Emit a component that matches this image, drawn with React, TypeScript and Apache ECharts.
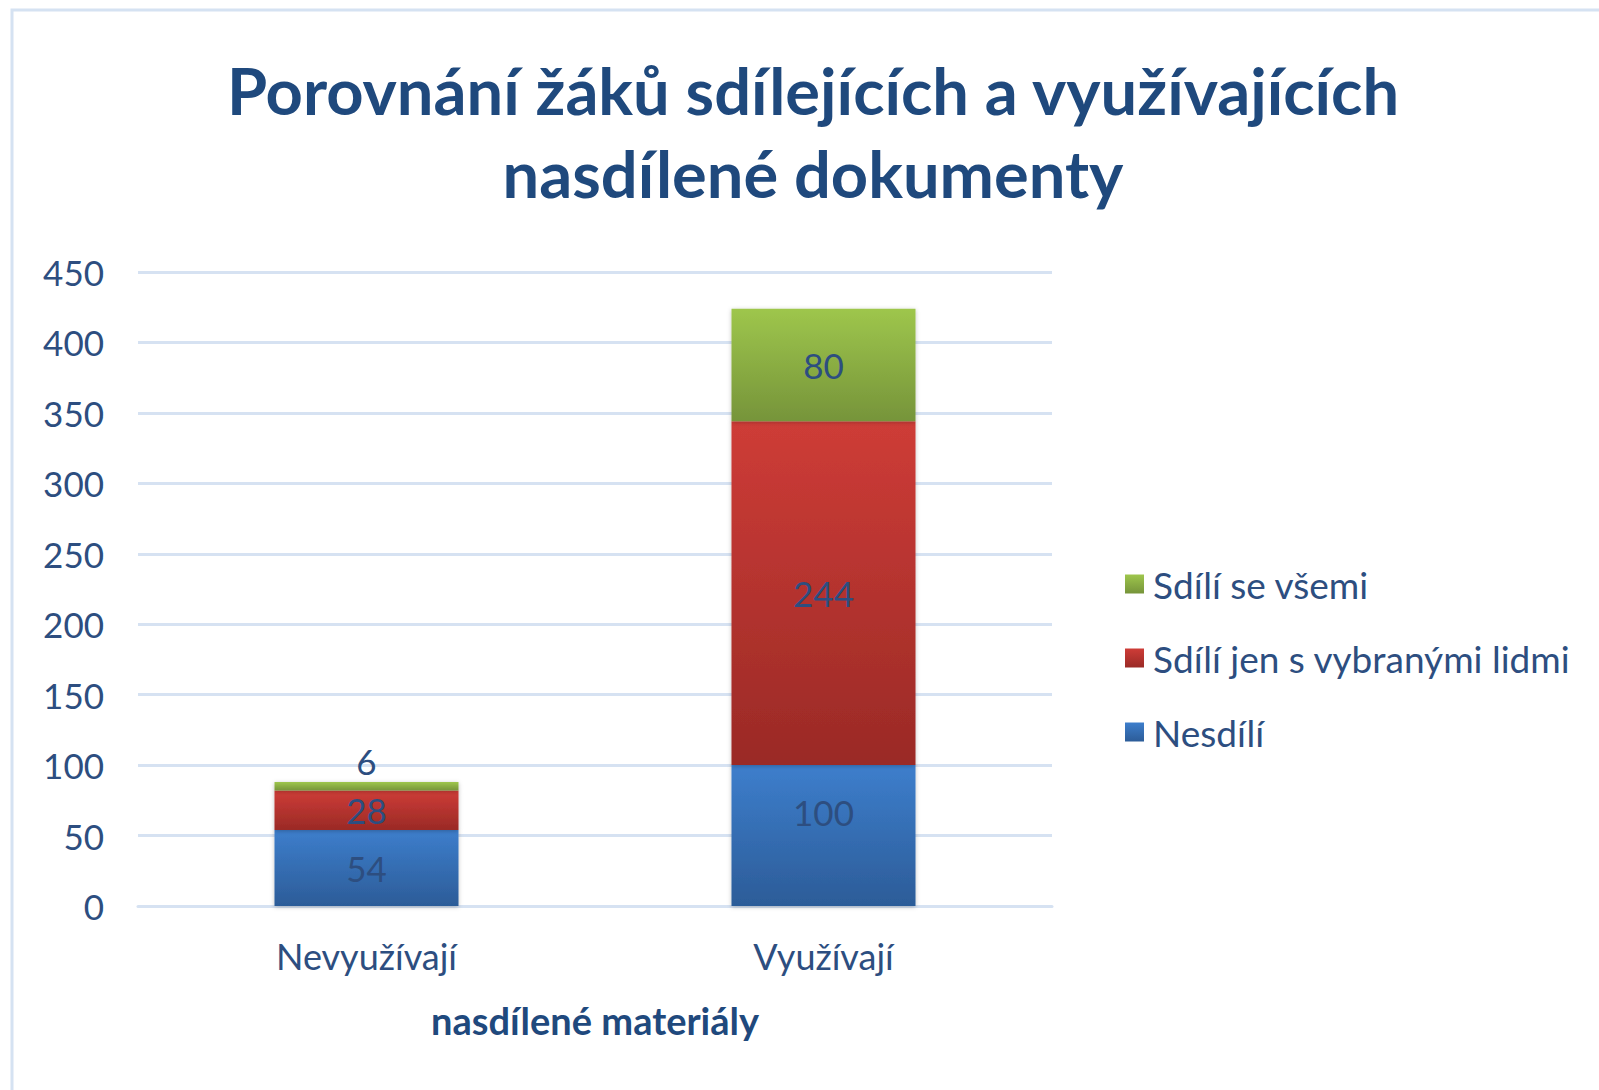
import React, { useEffect, useRef } from "react";
import * as echarts from "echarts";

const categories = ["Nevyužívají", "Využívají"];
const seriesNames = ["Nesdílí", "Sdílí jen s vybranými lidmi", "Sdílí se všemi"];
const nesdili = [54, 100];
const vybrani = [28, 244];
const vsemi = [6, 80];
const titleLines = ["Porovnání žáků sdílejících a využívajících", "nasdílené dokumenty"];
const xAxisName = "nasdílené materiály";

const FONT = "Lato, 'Open Sans', sans-serif";
const TXT = "#2D4E80";

function grad(top: string, bottom: string) {
  return new echarts.graphic.LinearGradient(0, 0, 0, 1, [
    { offset: 0, color: top },
    { offset: 1, color: bottom },
  ]);
}

export default function App() {
  const ref = useRef<HTMLDivElement>(null);
  useEffect(() => {
    document.body.style.margin = "0";
    const chart = echarts.init(ref.current!, null, { renderer: "svg" });
    const colors = [
      grad("#3D7ECC", "#2C5C98"),
      grad("#CE3C37", "#9A2A26"),
      grad("#9EC64C", "#76943A"),
    ];
    const dataSets = [nesdili, vybrani, vsemi];
    const labelBase = {
      show: true,
      position: "inside",
      color: TXT,
      fontSize: 35,
      fontFamily: FONT,
    };
    chart.setOption({
      animation: false,
      backgroundColor: "#ffffff",
      graphic: [
        {
          type: "rect",
          shape: { x: 12, y: 10, width: 1620, height: 1120 },
          style: { fill: "none", stroke: "#D5E2F2", lineWidth: 3 },
          silent: true,
        },
        {
          type: "text",
          x: 813,
          y: 90,
          style: {
            text: titleLines[0],
            fill: "#1F497D",
            font: `bold 65px ${FONT}`,
            textAlign: "center",
            textVerticalAlign: "middle",
          },
        },
        {
          type: "text",
          x: 813,
          y: 173,
          style: {
            text: titleLines[1],
            fill: "#1F497D",
            font: `bold 65px ${FONT}`,
            textAlign: "center",
            textVerticalAlign: "middle",
          },
        },
      ],
      grid: { left: 138, right: 547, top: 272, bottom: 184, containLabel: false },
      legend: {
        orient: "vertical",
        left: 1120,
        top: 559,
        itemWidth: 19,
        itemHeight: 19,
        itemGap: 34,
        icon: "rect",
        data: [seriesNames[2], seriesNames[1], seriesNames[0]],
        textStyle: { color: TXT, fontSize: 37, lineHeight: 40, fontFamily: FONT, padding: [0, 0, 0, 4] },
      },
      xAxis: {
        type: "category",
        data: categories,
        axisLine: { show: true, lineStyle: { color: "#D6E2F2", width: 3 } },
        axisTick: { show: false },
        axisLabel: { color: TXT, fontSize: 36, fontFamily: FONT, margin: 32 },
        name: xAxisName,
        nameLocation: "middle",
        nameGap: 95,
        nameTextStyle: { color: "#1F497D", fontSize: 38, fontWeight: "bold", fontFamily: FONT },
      },
      yAxis: {
        type: "value",
        min: 0,
        max: 450,
        interval: 50,
        axisLine: { show: false },
        axisTick: { show: false },
        axisLabel: { color: TXT, fontSize: 35, fontFamily: FONT, margin: 34 },
        splitLine: { lineStyle: { color: "#D6E2F2", width: 3 } },
      },
      series: seriesNames.map((name, i) => ({
        name,
        type: "bar",
        stack: "total",
        barWidth: 184,
        itemStyle: {
          color: colors[i],
          shadowBlur: 4,
          shadowColor: "rgba(0,0,0,0.25)",
          shadowOffsetY: 1,
        },
        label: labelBase,
        data: dataSets[i].map((v, j) => {
          if (i === 2 && j === 0) return { value: v, label: { ...labelBase, position: "top", distance: 4 } };
          if (i === 0 && j === 1) return { value: v, label: { ...labelBase, offset: [0, -24] } };
          return v;
        }),
      })),
    });
    return () => chart.dispose();
  }, []);
  return <div ref={ref} style={{ width: 1599, height: 1090 }} />;
}
